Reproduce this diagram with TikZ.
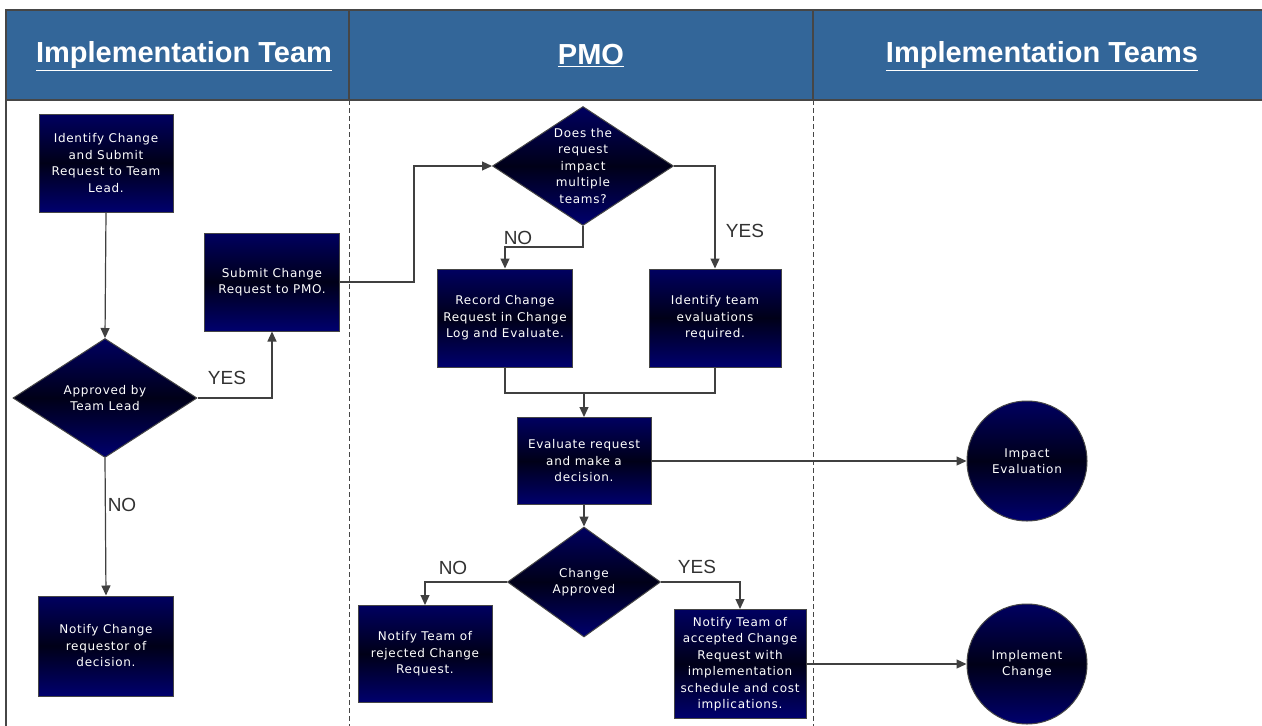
\documentclass[tikz,border=0pt]{standalone}
\usepackage{fontspec}
\setmainfont{Liberation Sans}
\newfontfamily\boxfont[LetterSpace=6]{DejaVu Sans}
\usetikzlibrary{arrows.meta,shapes.geometric}
\definecolor{headblue}{RGB}{51,102,153}
\definecolor{navytop}{RGB}{0,0,96}
\definecolor{navymid}{RGB}{0,0,24}
\definecolor{navybot}{RGB}{0,0,110}
\definecolor{edgegray}{RGB}{70,70,70}
\definecolor{linegray}{RGB}{64,64,64}
\definecolor{labelgray}{RGB}{50,50,50}
\tikzset{
  navyfill/.style={top color=navytop, bottom color=navybot, middle color=navymid, draw=edgegray, line width=1pt},
  boxtext/.style={text=white, align=center, font=\boxfont\fontsize{12}{16.5}\selectfont},
  task/.style={navyfill, boxtext, rectangle, inner sep=0pt},
  decision/.style={navyfill, boxtext, diamond, inner sep=0pt},
  terminal/.style={navyfill, boxtext, circle, inner sep=0pt, minimum size=120pt},
  flow/.style={draw=linegray, line width=1.2pt, -{Triangle[length=10pt,width=9pt]}},
  plainflow/.style={draw=linegray, line width=1.2pt},
  answer/.style={text=labelgray, font=\fontsize{19}{22}\selectfont, inner sep=0pt},
  headtext/.style={text=white, font=\bfseries\fontsize{29}{32}\selectfont, inner sep=0pt},
  lanerule/.style={draw=edgegray, line width=1pt, dash pattern=on 5pt off 3pt},
}
\newcommand{\headline}[1]{\underline{#1}}
\begin{document}
\begin{tikzpicture}[x=1pt,y=-1pt]
\useasboundingbox (0,0) rectangle (1262,726);
\fill[white] (0,0) rectangle (1262,726);

% swimlane header band
\fill[headblue] (6,10) rectangle (1262,100);
\draw[edgegray, line width=1.2pt] (1262,10) -- (6,10) -- (6,726);
\draw[edgegray, line width=1.2pt] (6,100) -- (1262,100);
\draw[edgegray, line width=1.2pt] (349,10) -- (349,100);
\draw[edgegray, line width=1.2pt] (813,10) -- (813,100);
\draw[lanerule] (349,100) -- (349,726);
\draw[lanerule] (813,100) -- (813,726);

\node[headtext] (h1) at (184,56) {\headline{Implementation Team}};
\node[headtext] (h2) at (591,56) {\headline{PMO}};
\node[headtext] (h3) at (1042,56) {\headline{Implementation Teams}};

% implementation team lane
\node[task, minimum width=134pt, minimum height=98pt] (identify) at (106,163)
  {Identify Change\\and Submit\\Request to Team\\Lead.};
\node[decision, minimum width=184pt, minimum height=119pt, aspect=1.55] (approved) at (105,398)
  {Approved by\\Team Lead};
\node[task, minimum width=135pt, minimum height=98pt] (submit) at (272,282)
  {Submit Change\\Request to PMO.};
\node[task, minimum width=135pt, minimum height=100pt] (notifyreq) at (106,646)
  {Notify Change\\requestor of\\decision.};

% PMO lane
\node[decision, minimum width=181pt, minimum height=119pt, aspect=1.52] (multi) at (583,166)
  {Does the\\request\\impact\\multiple\\teams?};
\node[task, minimum width=135pt, minimum height=98pt] (record) at (505,318)
  {Record Change\\Request in Change\\Log and Evaluate.};
\node[task, minimum width=132pt, minimum height=98pt] (teams) at (715,318)
  {Identify team\\evaluations\\required.};
\node[task, minimum width=134pt, minimum height=87pt] (evaluate) at (584,461)
  {Evaluate request\\and make a\\decision.};
\node[decision, minimum width=153pt, minimum height=110pt, aspect=1.39] (changeok) at (584,582)
  {Change\\Approved};
\node[task, minimum width=134pt, minimum height=97pt] (rejected) at (425,654)
  {Notify Team of\\rejected Change\\Request.};
\node[task, minimum width=132pt, minimum height=109pt] (accepted) at (740,664)
  {Notify Team of\\accepted Change\\Request with\\implementation\\schedule and cost\\implications.};

% implementation teams lane
\node[terminal] (impact) at (1027,461) {Impact\\Evaluation};
\node[terminal] (implement) at (1027,664) {Implement\\Change};

% connectors
\draw[flow] (identify.south) -- (approved.north);
\draw[flow] (approved.east) -| (submit.south);
\node[answer] (yes1) at (227,378) {YES};
\draw[flow] (approved.south) -- (notifyreq.north);
\node[answer] (no1) at (122,505) {NO};

\coordinate (bend1) at (414,282);
\coordinate (bend2) at (414,166);
\draw[flow] (submit.east) -- (bend1) -- (bend2) -- (multi.west);

\coordinate (nobend) at (583,247);
\draw[flow] (multi.south) -- (nobend) -| (record.north);
\node[answer] (no2) at (518,238) {NO};
\draw[flow] (multi.east) -| (teams.north);
\node[answer] (yes2) at (745,231) {YES};

\coordinate (join) at (584,393);
\draw[plainflow] (record.south) |- (join) -| (teams.south);
\draw[flow] (join) -- (evaluate.north);
\draw[flow] (evaluate.south) -- (changeok.north);
\draw[flow] (evaluate.east) -- (impact.west);

\draw[flow] (changeok.west) -| (rejected.north);
\node[answer] (no3) at (453,568) {NO};
\draw[flow] (changeok.east) -| (accepted.north);
\node[answer] (yes3) at (697,567) {YES};
\draw[flow] (accepted.east) -- (implement.west);
\end{tikzpicture}
\end{document}
